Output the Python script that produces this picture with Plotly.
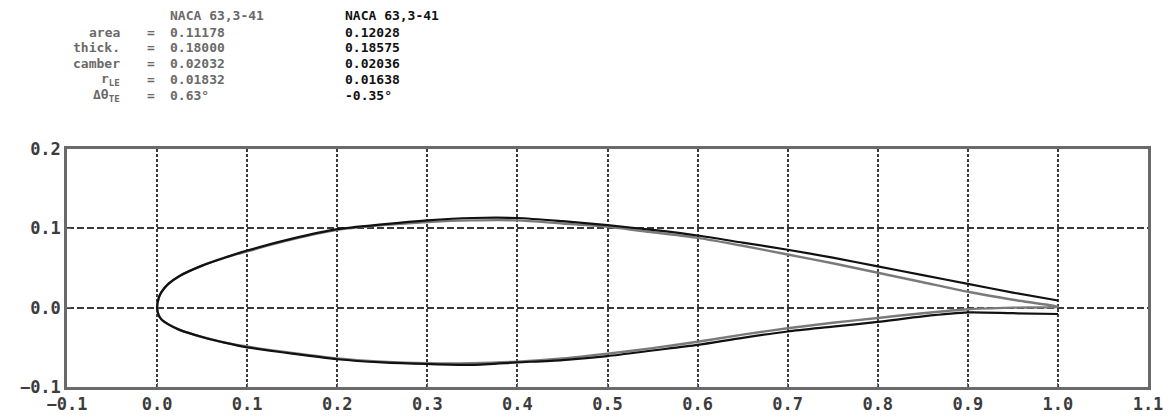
import plotly.graph_objects as go

# chordwise stations
x_pts = [0.0, 0.002, 0.005, 0.0125, 0.025, 0.05, 0.075, 0.1, 0.15, 0.2, 0.25, 0.3, 0.35,
         0.4, 0.45, 0.5, 0.55, 0.6, 0.65, 0.7, 0.75, 0.8, 0.85, 0.9, 0.95, 1.0]

# gray airfoil (original)
gray_upper = [0.0, 0.013, 0.020, 0.030, 0.040, 0.053, 0.063, 0.071, 0.086, 0.098, 0.104, 0.108, 0.110,
              0.110, 0.106, 0.102, 0.095, 0.088, 0.078, 0.067, 0.056, 0.044, 0.032, 0.020, 0.010, 0.001]
gray_lower = [0.0, -0.010, -0.015, -0.021, -0.028, -0.037, -0.044, -0.049, -0.057, -0.064, -0.068, -0.070, -0.070,
              -0.068, -0.064, -0.058, -0.051, -0.043, -0.034, -0.026, -0.019, -0.013, -0.007, -0.002, 0.000, 0.001]

# black airfoil (modified)
black_upper = [0.0, 0.013, 0.020, 0.030, 0.040, 0.053, 0.063, 0.072, 0.087, 0.099, 0.105, 0.110, 0.113,
               0.113, 0.109, 0.104, 0.098, 0.091, 0.082, 0.073, 0.063, 0.052, 0.041, 0.030, 0.019, 0.009]
black_lower = [0.0, -0.010, -0.015, -0.021, -0.028, -0.037, -0.044, -0.050, -0.058, -0.065, -0.069, -0.071, -0.072,
               -0.069, -0.066, -0.061, -0.054, -0.047, -0.038, -0.030, -0.024, -0.018, -0.011, -0.006, -0.007, -0.008]

x_ticks = [-0.1, 0.0, 0.1, 0.2, 0.3, 0.4, 0.5, 0.6, 0.7, 0.8, 0.9, 1.0, 1.1]
y_ticks = [-0.1, 0.0, 0.1, 0.2]

row_labels = ["area", "thick.", "camber", "r<sub>LE</sub>", "Δθ<sub>TE</sub>"]
name_a = "NACA 63,3-41"
name_b = "NACA 63,3-41"
values_a = ["0.11178", "0.18000", "0.02032", "0.01832", "0.63°"]
values_b = ["0.12028", "0.18575", "0.02036", "0.01638", "-0.35°"]

GRAY = "#6a6a6a"
FONT = "DejaVu Sans Mono"

def closed(xs, up, lo):
    xx = list(reversed(xs)) + xs[1:]
    yy = list(reversed(up)) + lo[1:]
    return xx, yy

fig = go.Figure()
gx, gy = closed(x_pts, gray_upper, gray_lower)
bx, by = closed(x_pts, black_upper, black_lower)
fig.add_trace(go.Scatter(x=gx, y=gy, mode="lines", line=dict(color="#7a7a7a", width=2.4, shape="spline", smoothing=0.7),
                         showlegend=False, hoverinfo="skip"))
fig.add_trace(go.Scatter(x=bx, y=by, mode="lines", line=dict(color="#111111", width=2.2, shape="spline", smoothing=0.7),
                         showlegend=False, hoverinfo="skip"))

# page offset of the figure (default body margin)
OFF = 8
# desired plot area in screenshot pixels
L, R, T, B = 67, 1148, 149, 387
W, H = 1171, 417

def px(xp):
    return (xp - L) / (R - L)

def py(yp):
    return (B - yp) / (B - T)

ann = []
row_y = [32, 48, 64, 80, 96]
hdr = dict(family=FONT, size=13, color=GRAY)
hdr_b = dict(family=FONT, size=13, color="#111111")
ann.append(dict(text="<b>" + name_a + "</b>", x=px(168), y=py(15), xanchor="left", yanchor="middle", font=hdr))
ann.append(dict(text="<b>" + name_b + "</b>", x=px(343), y=py(15), xanchor="left", yanchor="middle", font=hdr_b))
for lab, va, vb, yy in zip(row_labels, values_a, values_b, row_y):
    ann.append(dict(text="<b>" + lab + "</b>", x=px(122), y=py(yy), xanchor="right", yanchor="middle", font=hdr))
    ann.append(dict(text="<b>=</b>", x=px(151), y=py(yy), xanchor="center", yanchor="middle", font=hdr))
    ann.append(dict(text="<b>" + va + "</b>", x=px(168), y=py(yy), xanchor="left", yanchor="middle", font=hdr))
    ann.append(dict(text="<b>" + vb + "</b>", x=px(343), y=py(yy), xanchor="left", yanchor="middle", font=hdr_b))
for a in ann:
    a.update(xref="paper", yref="paper", showarrow=False)

tickfont = dict(family=FONT, size=17, color="#3c3c3c", weight="bold")
fig.update_layout(
    width=W, height=H,
    margin=dict(l=L - OFF, r=W - (R - OFF), t=T - OFF, b=H - (B - OFF)),
    plot_bgcolor="white", paper_bgcolor="white",
    annotations=ann,
    xaxis=dict(range=[-0.1, 1.1], tickvals=x_ticks, tickformat=".1f",
               showgrid=True, gridcolor="#3a3a3a", gridwidth=1.5, griddash="3px,2px",
               showline=True, linecolor=GRAY, linewidth=2.5, mirror=True,
               ticks="inside", ticklen=4, tickcolor=GRAY,
               zeroline=False, tickfont=tickfont),
    yaxis=dict(range=[-0.1, 0.2], tickvals=y_ticks, tickformat=".1f",
               showgrid=True, gridcolor="#3a3a3a", gridwidth=1.5, griddash="7px,3px",
               showline=True, linecolor=GRAY, linewidth=2.5, mirror=True,
               ticks="inside", ticklen=4, tickcolor=GRAY,
               zeroline=False, tickfont=tickfont),
)

fig.write_html("out.html")
